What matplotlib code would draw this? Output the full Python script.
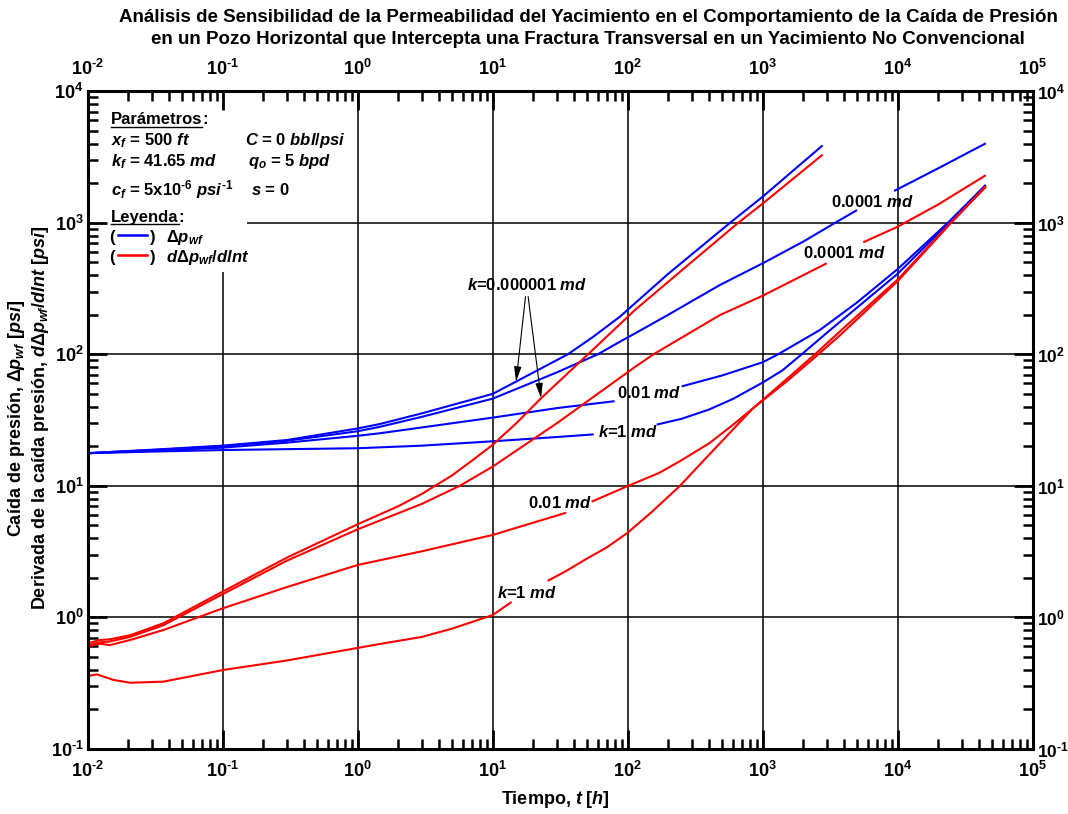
import numpy as np
import matplotlib
matplotlib.use("Agg")
import matplotlib.pyplot as plt
import matplotlib.ticker as plt_ticker
from matplotlib.patches import Rectangle
from matplotlib.lines import Line2D

nan = np.nan

# ---- data (t in hours, values in psi) ----
# pressure drop, blue
dp_k6_t = [0.01, 0.03, 0.1, 0.3, 1, 1.46, 3, 10, 14.9, 36, 55, 88, 113, 200, 573, 1000, 2780]
dp_k6 = [17.7, 18.8, 20.2, 22.3, 27.3, 29.5, 35.6, 50, 62, 100, 135, 194, 244, 410, 1000, 1580, 3880]

dp_k4_t = [0.01, 0.03, 0.1, 0.3, 1, 1.46, 3, 10, 30, 60, 88, 113, 200, 483, 1000, 2000, 3440, 5000,
           nan, 9400, 20000, 44900]
dp_k4 = [17.7, 18.7, 20.0, 22.0, 26.0, 28.1, 33.5, 46, 73, 100, 125, 144, 200, 337, 492, 720, 1000, 1250,
         nan, 1745, 2600, 4020]

dp_k2_t = [0.01, 0.03, 0.1, 0.3, 1, 1.46, 3, 10, 30, 80, nan, 251, 500, 1000, 1300, 2650, 5000, 10000,
           23500, 44900]
dp_k2 = [17.7, 18.5, 19.5, 21.3, 24.0, 25.1, 27.8, 33, 39, 44, nan, 57, 69, 87, 100, 153, 248, 445,
         1000, 1940]

dp_k0_t = [0.01, 0.03, 0.1, 0.3, 1, 3, 10, 30, 56, nan, 164, 250, 400, 600, 1000, 1400, 1945, 3160,
           10000, 24000, 44900]
dp_k0 = [17.7, 18.2, 18.7, 19.0, 19.3, 20.2, 21.8, 23.5, 24.6, nan, 29.2, 32.3, 38, 45.7, 61, 75.5, 100,
         153, 410, 1000, 1930]

# derivative, red
dd_k6_t = [0.01, 0.0123, 0.0146, 0.0206, 0.0363, 0.1, 0.3, 1, 2, 3, 5, 7, 10, 15, 22.4, 50.8, 113, 300,
           659, 1000, 2780]
dd_k6 = [0.634, 0.672, 0.68, 0.73, 0.90, 1.57, 2.85, 5.1, 7.0, 8.7, 12.0, 15.5, 20.5, 30, 45.5, 100, 217,
         507, 1000, 1400, 3300]

dd_k4_t = [0.01, 0.0123, 0.0146, 0.0206, 0.0363, 0.1, 0.3, 1, 3, 5.7, 10, 30, 113, 155, 483, 1000, 2980,
           nan, 5560, 10000, 20000, 44900]
dd_k4 = [0.61, 0.645, 0.655, 0.71, 0.87, 1.50, 2.7, 4.67, 7.3, 10, 14, 30, 80, 100, 199, 279, 492,
         nan, 711, 934, 1380, 2300]

dd_k2_t = [0.01, 0.0123, 0.0146, 0.0206, 0.0363, 0.1, 0.3, 1, 3, 10, 35, nan, 54, 100, 170, 244, 400, 600,
           851, 1500, 2440, 3750, 6000, 10000, 24400, 45000]
dd_k2 = [0.60, 0.63, 0.615, 0.672, 0.80, 1.17, 1.70, 2.50, 3.18, 4.23, 6.24, nan, 7.57, 9.96, 12.5, 15.4,
         21, 29, 39, 62, 95, 140, 220, 360, 980, 1880]

dd_k0_t = [0.01, 0.0117, 0.0155, 0.0206, 0.0363, 0.1, 0.3, 1, 1.46, 3, 5, 10, 13.8, nan, 25.5, 35, 50, 70,
           100, 150, 244, 400, 600, 851, 1500, 2440, 3750, 6000, 10000, 16000, 24400, 45000]
dd_k0 = [0.358, 0.368, 0.334, 0.318, 0.324, 0.397, 0.47, 0.585, 0.627, 0.71, 0.82, 1.04, 1.31, nan, 1.89,
         2.25, 2.8, 3.4, 4.4, 6.3, 10, 17.2, 26.7, 39, 64.6, 100, 150, 232, 370, 622, 990, 1900]

x_decades = [1e-2, 1e-1, 1e0, 1e1, 1e2, 1e3, 1e4, 1e5]
y_decades = [1e-1, 1e0, 1e1, 1e2, 1e3, 1e4]

BLUE = "#0000ff"
RED = "#ff0000"

plt.rcParams["font.family"] = ["Liberation Sans", "DejaVu Sans"]
plt.rcParams["font.weight"] = "bold"
plt.rcParams["mathtext.fontset"] = "custom"
plt.rcParams["mathtext.rm"] = "Liberation Sans:bold"
plt.rcParams["mathtext.bf"] = "Liberation Sans:bold"
plt.rcParams["mathtext.it"] = "Liberation Sans:italic:bold"
plt.rcParams["mathtext.sf"] = "Liberation Sans:bold"

W, H = 1068, 814


def fx(px):
    # pixel x -> figure fraction
    return px / W


def fy(py):
    # pixel y (from top) -> figure fraction
    return 1 - py / H


def decade_label(v, pos):
    e = int(round(np.log10(v)))
    if e < 0:
        return r"$10^{\text{-}%d}$" % (-e)   # short hyphen like the original
    return r"$10^{%d}$" % e


fig = plt.figure(figsize=(W / 100, H / 100), dpi=100)
ax = fig.add_axes([fx(87.7), fy(748.8), (1032.7 - 87.7) / W, (748.8 - 91.3) / H])
ax.set_xscale("log")
ax.set_yscale("log")
ax.set_xlim(x_decades[0], x_decades[-1])
ax.set_ylim(y_decades[0], y_decades[-1])

# grid drawn by hand so the parameter box can hide part of it
for v in x_decades[1:-1]:
    ax.axvline(v, color="k", lw=1.1, zorder=0.8)
for v in y_decades[1:-1]:
    ax.axhline(v, color="k", lw=1.1, zorder=0.8)
ax.add_patch(Rectangle((0, (748.8 - 272) / 657.5), (247 - 87.7) / 945, 1,
                       transform=ax.transAxes, facecolor="white", edgecolor="none", zorder=0.9))

curves = [
    (dp_k6_t, dp_k6, BLUE), (dp_k4_t, dp_k4, BLUE), (dp_k2_t, dp_k2, BLUE), (dp_k0_t, dp_k0, BLUE),
    (dd_k6_t, dd_k6, RED), (dd_k4_t, dd_k4, RED), (dd_k2_t, dd_k2, RED), (dd_k0_t, dd_k0, RED),
]
for t, v, c in curves:
    ax.plot(t, v, color=c, lw=1.5, zorder=2, solid_capstyle="butt")

# ticks
fmt = plt_ticker.FuncFormatter(decade_label)
for axis, dec in ((ax.xaxis, x_decades), (ax.yaxis, y_decades)):
    axis.set_major_locator(plt_ticker.FixedLocator(dec))
    axis.set_minor_locator(plt_ticker.LogLocator(base=10, subs=np.arange(2, 10), numticks=200))
    axis.set_major_formatter(fmt)
    axis.set_minor_formatter(plt_ticker.NullFormatter())
ax.tick_params(which="both", direction="in", top=True, right=True, labeltop=True, labelright=True,
               labelsize=13)
ax.tick_params(which="major", length=14, width=2)
ax.tick_params(which="minor", length=7, width=1.8)
ax.tick_params(axis="x", which="major", pad=9)
ax.tick_params(axis="y", which="major", pad=3)
for tick in ax.yaxis.get_major_ticks():
    tick.label2.set_fontsize(12.5)   # keep the right-hand labels inside the figure
for s in ax.spines.values():
    s.set_linewidth(2.2)

# curve labels
lab = dict(ha="center", va="center", fontsize=12, zorder=3)
ax.text(17.9, 337, r"$k$=0.000001 $md$", **lab)
arrow = dict(arrowstyle="-|>,head_length=0.9,head_width=0.22", color="k", lw=0.8, shrinkA=0, shrinkB=0)
ax.annotate("", xy=(14.9, 61.9), xytext=(17.5, 275), arrowprops=arrow)
ax.annotate("", xy=(22.8, 46.3), xytext=(18.3, 275), arrowprops=arrow)
ax.text(143, 50.7, r"0.01 $md$", **lab)
ax.text(99.8, 25.7, r"$k$=1 $md$", **lab)
ax.text(6460, 1446, r"0.0001 $md$", **lab)
ax.text(4000, 586, r"0.0001 $md$", **lab)
ax.text(31.3, 7.44, r"0.01 $md$", **lab)
ax.text(18.1, 1.54, r"$k$=1 $md$", **lab)

# parameter box
pt = dict(fontsize=12, va="baseline", ha="left")
p_head = fig.text(fx(111), fy(124.3), "Parámetros", **pt)
l_head = fig.text(fx(111), fy(221.7), "Leyenda", **pt)
fig.text(fx(111), fy(145), r"$x_f$ = 500 $ft$", **pt)
fig.text(fx(245), fy(145), r"$C$ = 0 $bbl/psi$", **pt)
fig.text(fx(111), fy(166), r"$k_f$ = 41.65 $md$", **pt)
fig.text(fx(248), fy(166), r"$q_o$ = 5 $bpd$", **pt)
fig.text(fx(111), fy(195), r"$c_f$ = 5x10$^{\text{-}6}$ $psi^{\text{-}1}$", **pt)
fig.text(fx(251), fy(195), r"$s$ = 0", **pt)
for row, col, name in ((241.7, BLUE, r"$\Delta p_{wf}$"), (261.7, RED, r"$d\Delta p_{wf}/dlnt$")):
    fig.text(fx(109), fy(row), "(", **pt)
    fig.text(fx(150), fy(row), ")", **pt)
    fig.add_artist(Line2D([fx(118), fx(147)], [fy(row - 6.5), fy(row - 6.5)], color=col, lw=1.8))
    fig.text(fx(166), fy(row), name, **pt)

fig.canvas.draw()
rend = fig.canvas.get_renderer()
for txt, base in ((p_head, 124.3), (l_head, 221.7)):
    bb = txt.get_window_extent(rend)
    fig.add_artist(Line2D([bb.x0 / W, bb.x1 / W], [fy(base + 2.5), fy(base + 2.5)], color="k", lw=1.0))
    fig.text(bb.x1 / W, fy(base), ":", **pt)

# titles and axis labels
fig.text(fx(588), fy(17), "Análisis de Sensibilidad de la Permeabilidad del Yacimiento en el "
         "Comportamiento de la Caída de Presión", ha="center", va="center", fontsize=13.5)
fig.text(fx(588), fy(40), "en un Pozo Horizontal que Intercepta una Fractura Transversal en un "
         "Yacimiento No Convencional", ha="center", va="center", fontsize=13.5)
fig.text(fx(555), fy(800), r"Tiempo, $t$ [$h$]", ha="center", va="center", fontsize=13)
fig.text(fx(28.5), fy(418),
         "Caída de presión, $\\Delta p_{wf}$ [$psi$]\n"
         "Derivada de la caída presión, $d\\Delta p_{wf}/dlnt$ [$psi$]",
         rotation=90, ha="center", va="center", multialignment="center", fontsize=13, linespacing=1.25)

fig.savefig("out.png", dpi=100)
